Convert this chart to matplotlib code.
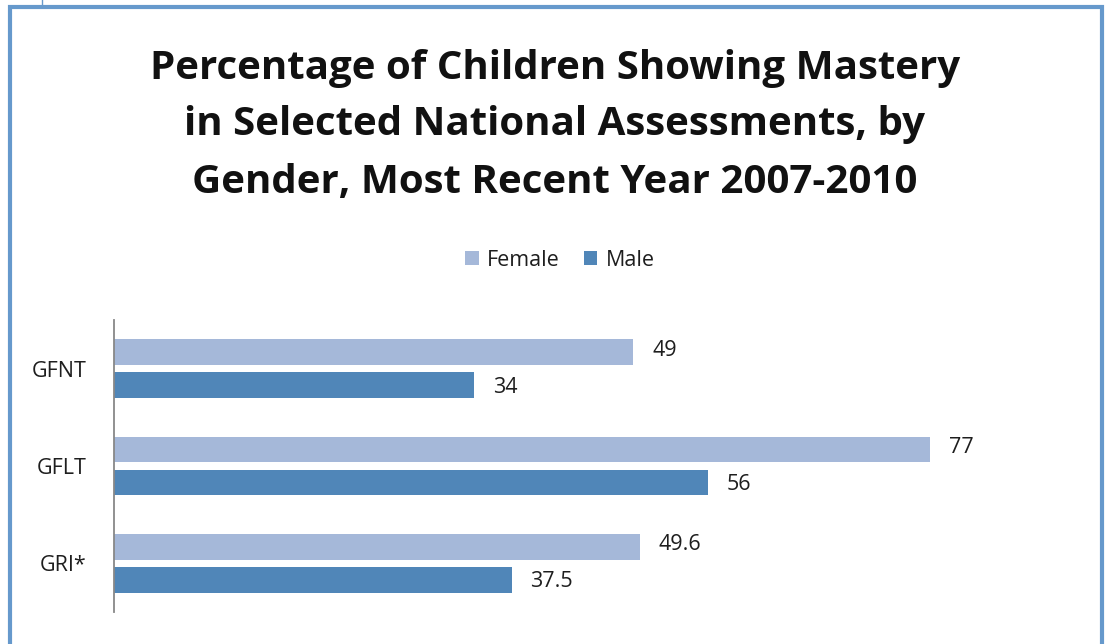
import matplotlib
matplotlib.use("Agg")
import matplotlib.pyplot as plt
from matplotlib.patches import Rectangle
from matplotlib.lines import Line2D
import numpy as np

categories = ["GFNT", "GFLT", "GRI*"]
female = [49, 77, 49.6]
male = [34, 56, 37.5]
female_labels = ["49", "77", "49.6"]
male_labels = ["34", "56", "37.5"]

title = ("Percentage of Children Showing Mastery\n"
         "in Selected National Assessments, by\n"
         "Gender, Most Recent Year 2007-2010")

FEMALE_C = "#A5B8D9"
MALE_C = "#5086B8"
BORDER_C = "#6699CC"
TEXT_C = "#1E1E1E"
FONT = ["Open Sans", "DejaVu Sans"]
SMALL = 15.5

W, H = 1108, 644
fig = plt.figure(figsize=(W / 100, H / 100), dpi=100)
fig.patch.set_facecolor("white")

# outer chart frame (runs past the bottom edge)
fig.patches.append(Rectangle((9.5 / W, -0.05), (1102 - 9.5) / W, (H - 7) / H + 0.05,
                             transform=fig.transFigure, fill=False,
                             edgecolor=BORDER_C, linewidth=3))
fig.lines.append(Line2D([42 / W, 42 / W], [1, 1 - 5 / H], transform=fig.transFigure,
                        color=BORDER_C, linewidth=1))

fig.text(555 / W, 1 - 125 / H, title, ha="center", va="center",
         fontsize=29, fontweight="bold", family=FONT, linespacing=1.6,
         color="#111111")

# plot area
left, right = 114, 1068
top, bottom = 320, 612
ax = fig.add_axes([left / W, 1 - bottom / H, (right - left) / W, (bottom - top) / H])

y = np.arange(len(categories))
h = 0.262
off = 0.17
bf = ax.barh(y - off, female, height=h, color=FEMALE_C, label="Female")
bm = ax.barh(y + off, male, height=h, color=MALE_C, label="Male")

for bars, labels, dy in ((bf, female_labels, 2), (bm, male_labels, -2)):
    for rect, lab in zip(bars, labels):
        ax.annotate(lab, (rect.get_width(), rect.get_y() + rect.get_height() / 2),
                    xytext=(19, dy), textcoords="offset pixels", ha="left",
                    va="center", fontsize=SMALL, family=FONT, color=TEXT_C)

ax.set_xlim(0, 90)
ax.set_ylim(len(categories) - 0.5, -0.5)
ax.set_yticks(y)
ax.set_yticklabels(categories, family=FONT, fontsize=SMALL, color=TEXT_C)
ax.tick_params(axis="y", length=0, pad=20)
ax.set_xticks([])
for s in ["top", "right", "bottom"]:
    ax.spines[s].set_visible(False)
ax.spines["left"].set_color("#888888")
ax.spines["left"].set_linewidth(1.3)

fig.legend(handles=[bf, bm], labels=["Female", "Male"], loc="center",
           bbox_to_anchor=(560 / W, 1 - 260 / H), ncol=2, frameon=False,
           prop={"family": FONT, "size": SMALL}, handlelength=0.62,
           handleheight=0.62, handletextpad=0.4, columnspacing=1.1,
           labelcolor=TEXT_C)

fig.savefig("out.png", dpi=100, facecolor="white")
